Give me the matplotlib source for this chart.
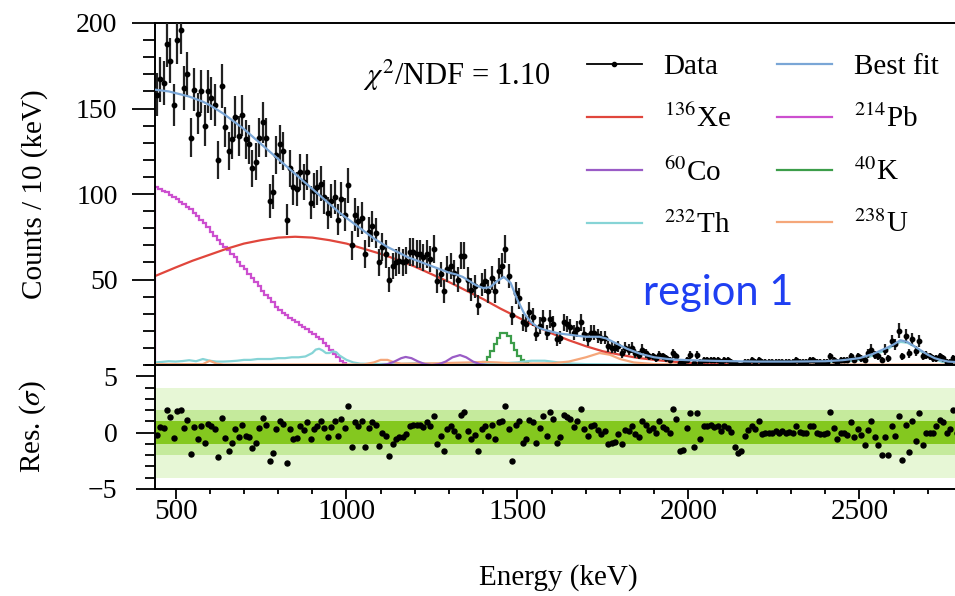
import numpy as np
import matplotlib
matplotlib.use("Agg")
import matplotlib.pyplot as plt
from matplotlib.lines import Line2D
from matplotlib.ticker import MultipleLocator

plt.rcParams["font.family"] = "serif"
plt.rcParams["font.serif"] = ["Liberation Serif", "DejaVu Serif"]
plt.rcParams["mathtext.fontset"] = "stix"

# data: counts per 10 keV bin, first bin 440-450 keV
counts = [
    158, 167, 165, 188, 178, 152, 190, 196, 162, 170,
    133, 161, 147, 160, 140, 160, 156, 152, 120, 163,
    139, 125, 132, 145, 134, 146, 132, 129, 115, 119,
    133, 142, 133, 96, 101, 123, 129, 125, 85, 115,
    104, 103, 113, 107, 113, 95, 102, 104, 106, 98,
    89, 96, 98, 85, 97, 88, 105, 70, 88, 84,
    86, 65, 78, 81, 77, 60, 69, 65, 50, 58,
    60, 61, 60, 61, 66, 66, 65, 65, 63, 65,
    62, 68, 49, 53, 43, 56, 58, 54, 50, 64,
    64, 50, 44, 46, 35, 47, 49, 43, 51, 43,
    55, 58, 68, 52, 29, 42, 39, 25, 24, 31,
    28, 18, 23, 27, 19, 27, 24, 15, 16, 25,
    24, 22, 19, 21, 25, 18, 15, 19, 19, 17,
    16, 16, 11, 10, 10, 11, 7, 10, 9, 10,
    7, 6, 9, 7, 5, 5, 4, 6, 5, 4,
    3, 7, 5, 1, 1, 3, 6, 1, 6, 2,
    3, 3, 3, 3, 3, 2, 3, 3, 2, 1,
    0, 0, 2, 2, 3, 2, 3, 2, 2, 2,
    2, 2, 2, 2, 2, 2, 2, 3, 2, 2,
    2, 3, 3, 2, 2, 2, 2, 5, 3, 2,
    3, 3, 3, 5, 3, 5, 4, 3, 7, 9,
    6, 5, 3, 9, 4, 14, 12, 20, 5, 17,
    7, 15, 8, 14, 5, 6, 5, 4, 4, 5,
    4, 2, 2, 4, 2, 2,
]

residuals = [
    -0.2, 0.5, 0.4, 2.0, 1.4, -0.5, 1.9, 2.0, 0.4, 1.1,
    -1.9, 0.5, -0.6, 0.6, -0.9, 0.8, 0.6, 0.3, -2.2, 1.3,
    -0.5, -1.6, -0.9, 0.3, -0.4, 0.7, -0.3, -0.4, -1.4, -0.9,
    0.4, 1.3, 0.7, -2.5, -1.8, 0.3, 1.0, 0.8, -2.7, 0.3,
    -0.6, -0.5, 0.6, 0.2, 0.9, -0.6, 0.3, 0.6, 1.0, 0.4,
    -0.4, 0.5, 1.0, -0.3, 1.2, 0.4, 2.35, -1.3, 0.9, 0.6,
    1.0, -1.3, 0.4, 0.9, 0.7, -1.2, 0.0, -0.3, -2.1, -1.0,
    -0.6, -0.4, -0.35, -0.15, 0.6, 0.7, 0.7, 0.7, 0.5, 0.9,
    0.6, 1.5, -1.0, -0.3, -1.6, 0.3, 0.6, 0.15, -0.3, 1.6,
    1.8, 0.15, -0.6, -0.2, -1.6, 0.3, 0.6, -0.3, 0.7, -0.6,
    0.9, 1.0, 2.35, 0.3, -2.5, 0.7, 1.0, -0.9, -0.6, 1.1,
    0.9, -0.9, 0.4, 1.5, -0.3, 1.8, 1.2, -0.9, -0.4, 1.6,
    1.4, 1.2, 0.5, 1.0, 2.06, 0.3, -0.3, 0.6, 0.7, 0.2,
    -0.15, 0.15, -1.0, -0.9, -0.8, -0.15, -1.0, 0.2, 0.15, 0.6,
    -0.15, -0.4, 1.0, 0.7, 0.2, 0.45, 0.0, 1.0, 0.5, 0.3,
    0.0, 2.06, 1.2, -1.6, -1.5, 0.4, 1.76, -1.3, 1.76, -0.6,
    0.6, 0.6, 0.65, 0.5, 0.6, 0.15, 0.6, 0.45, 0.1, -1.3,
    -1.8, -1.6, -0.3, 0.2, 0.6, 0.3, 1.0, -0.15, 0.0, 0.0,
    -0.05, 0.15, 0.0, 0.15, 0.0, 0.05, -0.05, 0.6, 0.05, 0.0,
    0.0, 0.6, 0.6, 0.0, -0.1, -0.1, 0.0, 1.8, 0.4, -0.6,
    0.0, 0.0, -0.2, 0.9, -0.4, 0.3, -0.2, -1.1, 0.25, 1.0,
    -0.4, -1.1, -2.0, -0.4, -2.0, 0.6, -0.3, 1.5, -2.4, 0.7,
    -1.7, 1.0, -0.7, 1.7, -1.1, 0.0, 0.0, 0.0, 0.6, 1.1,
    0.9, 0.0, 0.3, 2.0, 0.0, 0.3,
]

# model curves (energy nodes in keV, counts / 10 keV)
fit_e = [440, 460, 480, 500, 520, 540, 560, 580, 600, 620, 640, 660, 680, 700,
         720, 740, 760, 780, 800, 820, 840, 860, 880, 900, 920, 940, 960, 980,
         1000, 1020, 1040, 1060, 1080, 1100, 1120, 1140, 1160, 1180, 1200, 1220,
         1240, 1260, 1280, 1300, 1320, 1340, 1360, 1380, 1400, 1420, 1440, 1460,
         1480, 1500, 1520, 1540, 1560, 1580, 1600, 1620, 1640, 1660, 1680, 1700,
         1720, 1740, 1760, 1780, 1800, 1820, 1840, 1860, 1880, 1900, 1920, 1940,
         1960, 1980, 2000, 2100, 2200, 2300, 2400, 2450, 2500, 2540, 2580, 2600,
         2620, 2640, 2660, 2680, 2700, 2720, 2740, 2760, 2800]
fit_v = [161, 160.5, 160, 159, 158, 157, 155.5, 154, 152, 149.5, 147, 144, 141, 138,
         134.5, 131, 127.5, 124, 120.5, 117, 113.5, 110, 106.5, 103, 99.5, 96, 92.5, 89,
         86, 83, 80, 77, 74, 71.5, 69, 67, 65, 63, 61.5, 60,
         58.5, 57, 55.5, 54, 53, 51.5, 49, 46.5, 45, 45.5, 49, 51.5,
         48, 38, 30, 25, 22, 20.5, 19.5, 18.5, 18, 17.5, 17, 16.5,
         16.5, 16.5, 15.5, 13.5, 11.5, 9.5, 8, 6.5, 5.5, 4.5, 4, 3.5,
         3.2, 3, 2.8, 2.3, 2, 2, 2.2, 2.8, 4, 6.5, 10, 12,
         14.5, 13.5, 11, 8.5, 6, 4, 2.8, 2, 1.5]

xe_e = [440, 500, 550, 600, 650, 700, 750, 800, 850, 900, 950, 1000, 1050, 1100,
        1150, 1200, 1250, 1300, 1350, 1400, 1450, 1500, 1550, 1600, 1650, 1700,
        1750, 1800, 1850, 1900, 1950, 2000, 2100, 2200, 2300, 2458]
xe_v = [52, 57, 61, 64.5, 68, 71, 73, 74.5, 75, 74.5, 73, 71, 68, 65,
        61.5, 57.5, 53, 48.5, 43.5, 38.5, 33, 28, 23, 18.5, 14.5, 11,
        8, 6, 4.2, 3, 2, 1.3, 0.5, 0.2, 0.05, 0]

pb_edges = np.arange(440, 1010, 10)
pb_v = [104, 103, 102, 101, 99.5, 98, 97, 95.5, 94, 92.5,
        91, 89, 87, 85, 83, 80.5, 78, 75.5, 73, 71,
        69, 67, 65, 63, 60.5, 58, 56, 53.5, 51, 48.5,
        46, 43.5, 41, 39, 37, 34, 32, 30.5, 29, 27.5,
        26.5, 25, 23.5, 22, 21, 19.5, 18, 16.5, 15, 13,
        11, 8.5, 6.5, 4.5, 2.5, 1]

k_edges = np.arange(1380, 1560, 10)
k_v = [0.2, 0.8, 2, 4.5, 8, 12, 16, 18.5, 19, 17, 13, 9, 5.5, 3, 1.2, 0.4, 0]

co_e = [1100, 1120, 1140, 1160, 1173, 1190, 1210, 1230, 1250, 1270, 1290, 1310,
        1332, 1350, 1370, 1390, 1410]
co_v = [0, 0.5, 2, 4, 4.7, 4, 2, 0.5, 0, 0.5, 2, 4.5, 5.8, 4.5, 2, 0.5, 0]

th_e = [440, 460, 480, 500, 520, 540, 560, 580, 600, 620, 640, 660, 680, 700, 720,
        740, 760, 780, 800, 820, 840, 860, 880, 900, 910, 920, 930, 940, 950, 960,
        970, 980, 1000, 1020, 1040, 1100, 1160, 1200, 1240, 1280, 1320, 1400, 1500,
        1540, 1580, 1620, 1660, 1700, 1800, 2000, 2200, 2350, 2400, 2450, 2500,
        2540, 2580, 2600, 2620, 2640, 2660, 2680, 2700, 2720, 2740, 2760, 2800]
th_v = [1.5, 1.8, 2.2, 2.0, 2.3, 2.8, 2.2, 3.5, 2.5, 2.0, 2.0, 2.2, 2.5, 3.0, 3.0,
        3.5, 3.5, 3.5, 4.0, 4.0, 4.5, 4.5, 5.0, 7.0, 9.0, 9.5, 8.5, 7.0, 7.0, 8.0,
        7.5, 5.5, 3, 1.5, 0.8, 0.6, 0.6, 1, 0.8, 0.6, 0.5, 0.5, 1.5,
        2.5, 2.5, 1.5, 0.8, 0.5, 0.3, 0.2, 0.3, 0.5, 0.8, 1.5, 3,
        5.5, 9, 11.5, 13.5, 13, 11, 8, 5.5, 3.5, 2, 1.2, 0.8]

u_e = [440, 580, 600, 620, 640, 1050, 1080, 1100, 1120, 1140, 1160, 1200, 1260,
       1300, 1360, 1400, 1440, 1480, 1520, 1600, 1650, 1700, 1740, 1770, 1800,
       1840, 1900, 2000, 2100, 2200, 2800]
u_v = [0.5, 0.5, 2.5, 0.8, 0.3, 0.3, 1.5, 3, 3, 1.5, 0.8, 0.8, 1,
       1.2, 1.5, 1.8, 1.5, 1, 0.8, 1, 2, 4.5, 7, 6, 3.5,
       1.5, 0.5, 0.3, 0.5, 0.3, 0.2]

labels = [r"Data", r"$^{136}$Xe", r"$^{60}$Co", r"$^{232}$Th",
          r"Best fit", r"$^{214}$Pb", r"$^{40}$K", r"$^{238}$U"]
colors = {"fit": "#7aa6d6", "xe": "#e0463c", "pb": "#cc4fcf", "co": "#9a5cc6",
          "k": "#3c9d4a", "th": "#86d4d6", "u": "#f5a77a"}

energy = 445 + 10 * np.arange(len(counts))
e_res = 445 + 10 * np.arange(len(residuals))
counts = np.array(counts, dtype=float)

fig = plt.figure(figsize=(9.55, 5.96), dpi=100)
W, H = 955, 596
ax1 = fig.add_axes([155 / W, 1 - 365 / H, 807 / W, 342 / H])
ax2 = fig.add_axes([155 / W, 1 - 489 / H, 807 / W, 124 / H], sharex=ax1)

lw = 1.6
ax1.plot(th_e, th_v, color=colors["th"], lw=lw)
ax1.plot(u_e, u_v, color=colors["u"], lw=lw)
ax1.plot(co_e, co_v, color=colors["co"], lw=lw)
ax1.stairs(k_v, k_edges, color=colors["k"], lw=lw)
ax1.stairs(pb_v, pb_edges, color=colors["pb"], lw=lw)
ax1.plot(xe_e, xe_v, color=colors["xe"], lw=lw)
ax1.errorbar(energy, counts, yerr=np.sqrt(counts), fmt="o", ms=3.2, color="k",
             ecolor="#222222", elinewidth=1.6, capsize=0, zorder=3)
ax1.plot(fit_e, fit_v, color=colors["fit"], lw=lw, zorder=4)

ax1.set_xlim(440, 2800)
ax1.set_ylim(0, 200)
ax1.set_yticks([50, 100, 150, 200])
ax1.yaxis.set_minor_locator(MultipleLocator(10))
ax1.tick_params(axis="y", which="major", length=16.5, width=1.3, labelsize=20, pad=10.5)
ax1.tick_params(axis="y", which="minor", length=8.5, width=1.3)
ax1.tick_params(axis="x", which="both", bottom=False, labelbottom=False)
ax1.set_ylabel("Counts / 10 (keV)", fontsize=21)
ax1.yaxis.set_label_coords(-0.133, 0.5)

ax1.text(363 / W, 1 - 75 / H, r"$\chi^2$/NDF = 1.10", transform=fig.transFigure,
         fontsize=22, va="center", ha="left")

handles = [
    Line2D([], [], color="k", marker="o", ms=3, lw=1.3),
    Line2D([], [], color=colors["xe"], lw=lw),
    Line2D([], [], color=colors["co"], lw=lw),
    Line2D([], [], color=colors["th"], lw=lw),
    Line2D([], [], color=colors["fit"], lw=lw),
    Line2D([], [], color=colors["pb"], lw=lw),
    Line2D([], [], color=colors["k"], lw=lw),
    Line2D([], [], color=colors["u"], lw=lw),
]
fig.legend(handles, labels, ncol=2, frameon=False, fontsize=21,
           loc="upper left", bbox_to_anchor=(581 / W, 1 - 48 / H),
           handlelength=1.88, handletextpad=0.75, columnspacing=1.6,
           labelspacing=0.85, borderpad=0.2, borderaxespad=0)

ax2.axhspan(-4, 4, color="#e7f7d6", lw=0)
ax2.axhspan(-2, 2, color="#c5ea9c", lw=0)
ax2.axhspan(-1, 1, color="#84c81f", lw=0)
ax2.plot(e_res, residuals, "o", ms=3.6, color="k")
ax2.set_ylim(-5, 6)
ax2.set_yticks([-5, 0, 5])
ax2.yaxis.set_minor_locator(MultipleLocator(1))
ax2.xaxis.set_major_locator(MultipleLocator(500))
ax2.xaxis.set_minor_locator(MultipleLocator(100))
ax2.tick_params(axis="y", which="major", length=13.5, width=1.3, labelsize=20, pad=13.5)
ax2.tick_params(axis="y", which="minor", length=7.2, width=1.3)
ax2.tick_params(axis="x", which="major", length=7.2, width=1.3, labelsize=21, pad=0)
ax2.tick_params(axis="x", which="minor", length=3.6, width=1.3)
ax2.set_ylabel(r"Res. ($\sigma$)", fontsize=21)
ax2.yaxis.set_label_coords(-0.133, 0.5)
ax2.set_xlabel("Energy (keV)", fontsize=21, labelpad=28)

for ax in (ax1, ax2):
    for s in ax.spines.values():
        s.set_linewidth(1.4)
    ax.spines["right"].set_visible(False)

fig.text(643 / W, 1 - 305 / H, "region 1", color="#1f3ff2", fontsize=30,
         family="Lato", va="baseline", ha="left")

fig.savefig("out.png", dpi=100)
